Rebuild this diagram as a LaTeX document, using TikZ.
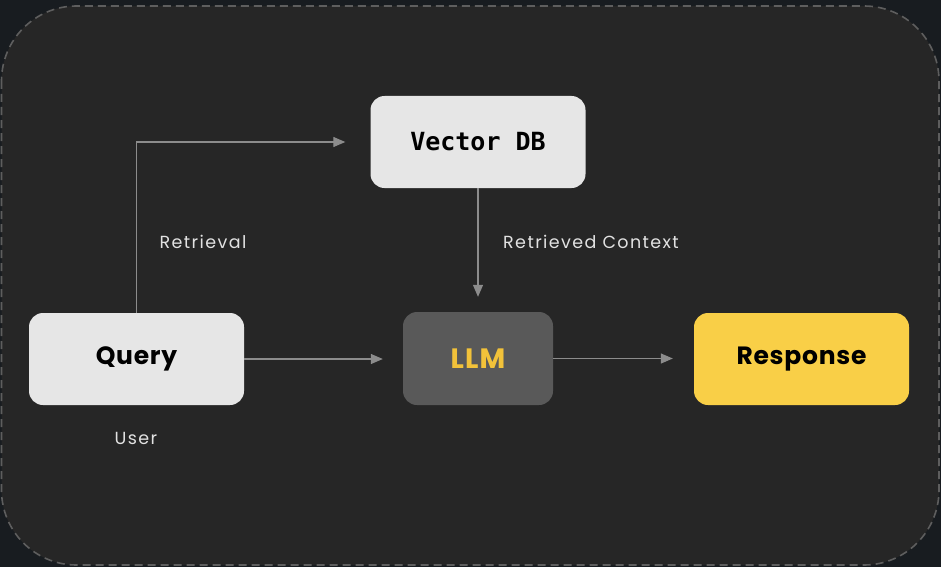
\documentclass[tikz,border=0pt]{standalone}
\usepackage{fontspec}
\setmainfont{Poppins}
\newfontfamily\monobold{DejaVu Sans Mono}
\newfontfamily\spaced[LetterSpace=3]{Poppins}
\newfontfamily\llmspaced[LetterSpace=4]{Poppins}
\newfontfamily\lblfont[LetterSpace=8]{Poppins}
\usetikzlibrary{arrows.meta,calc}
\definecolor{outerbg}{HTML}{181C20}
\definecolor{panelbg}{HTML}{262626}
\definecolor{dashcol}{HTML}{5E5E5E}
\definecolor{lightbox}{HTML}{E6E6E6}
\definecolor{llmbox}{HTML}{595959}
\definecolor{llmtext}{HTML}{F2C23A}
\definecolor{respbox}{HTML}{F9CF47}
\definecolor{arrowcol}{HTML}{8C8C8C}
\definecolor{labelcol}{HTML}{E2E2E2}
\tikzset{
  box/.style={rounded corners=14pt, minimum width=215pt, minimum height=92pt, inner sep=0pt, font=\spaced\fontsize{25}{28}\selectfont\bfseries},
  lightnode/.style={box, fill=lightbox, text=black},
  llmnode/.style={box, fill=llmbox, text=llmtext, minimum width=150pt, minimum height=93pt, font=\llmspaced\fontsize{28}{30}\selectfont\bfseries},
  respnode/.style={box, fill=respbox, text=black},
  conn/.style={draw=arrowcol, line width=1.2pt, -{Triangle[length=12pt,width=10pt]}},
  lbl/.style={text=labelcol, font=\lblfont\fontsize{17.5}{20}\selectfont, inner sep=0pt}
}
\begin{document}
\begin{tikzpicture}[x=1pt,y=-1pt]
\useasboundingbox (0,0) rectangle (941,567);
\fill[outerbg] (0,0) rectangle (941,567);
\filldraw[fill=panelbg, draw=dashcol, line width=1.6pt, dash pattern=on 8pt off 5pt, rounded corners=75pt] (1.5,6) rectangle (939,565);
\node[lightnode, font=\monobold\fontsize{25}{28}\selectfont\bfseries] (vdb) at (478,142) {Vector DB};
\node[lightnode] (query) at (136.5,359) {\raisebox{-2pt}{Query}};
\node[llmnode] (llm) at (478,358.5) {LLM};
\node[respnode] (resp) at (801.5,359) {\raisebox{-1.5pt}{Response}};
\draw[conn, shorten >=25pt] (query.north) |- (vdb.west);
\draw[conn, shorten >=15pt] (vdb.south) -- (llm.north);
\draw[conn, shorten >=20pt] (query.east) -- (query.east -| llm.west);
\draw[conn, shorten >=21pt] (llm.east) -- (llm.east -| resp.west);
\node[lbl] (lretr) at (203,242) {Retrieval};
\node[lbl] (lctx) at (591,242) {Retrieved Context};
\node[lbl] (luser) at (136,438) {User};
\end{tikzpicture}
\end{document}
